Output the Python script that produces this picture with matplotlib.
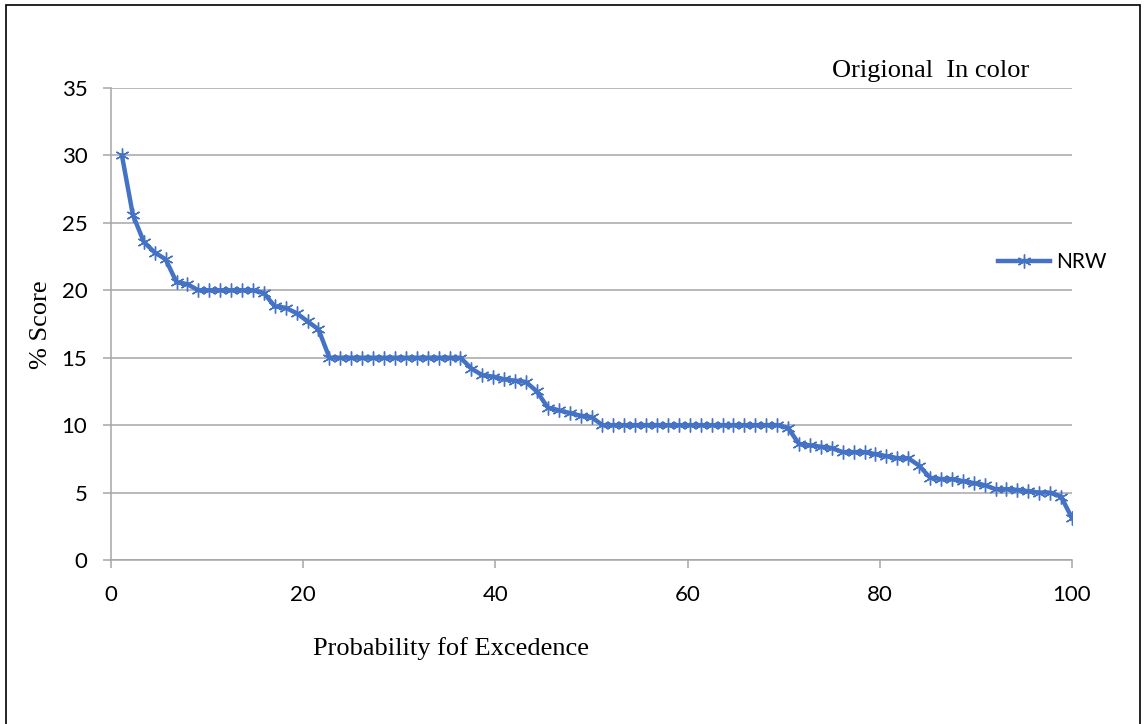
import matplotlib
matplotlib.use("Agg")
from matplotlib import pyplot as plt
from matplotlib.patches import Rectangle

# NRW scores sorted from highest to lowest
scores = [
    30.0, 25.6, 23.6, 22.8, 22.3, 20.6, 20.45,
    20.0, 20.0, 20.0, 20.0, 20.0, 20.0,
    19.8, 18.8, 18.7, 18.3, 17.7, 17.1,
    15.0, 15.0, 15.0, 15.0, 15.0, 15.0, 15.0, 15.0, 15.0, 15.0, 15.0, 15.0, 15.0,
    14.2, 13.7, 13.6, 13.4, 13.3, 13.2, 12.5, 11.3, 11.1, 10.9, 10.7, 10.6,
    10.0, 10.0, 10.0, 10.0, 10.0, 10.0, 10.0, 10.0, 10.0, 10.0, 10.0, 10.0,
    10.0, 10.0, 10.0, 10.0, 10.0,
    9.8, 8.6, 8.5, 8.4, 8.3, 8.0, 8.0, 8.0, 7.85, 7.7, 7.55, 7.55, 7.0,
    6.1, 6.0, 6.0, 5.85, 5.7, 5.55, 5.25, 5.25, 5.2, 5.1, 5.0, 5.0, 4.7, 3.1,
]
# probability of exceedance from rank
n = len(scores)
prob = [100.0 * (i + 1) / n for i in range(n)]

x_ticks = [0, 20, 40, 60, 80, 100]
y_ticks = [0, 5, 10, 15, 20, 25, 30, 35]

blue = "#4472C4"
grey = "#A6A6A6"
tick_font = "Lato"
serif_font = "Liberation Serif"

fig = plt.figure(figsize=(11.44, 7.24), dpi=100)
ax = fig.add_axes([111 / 1144, 1 - 560 / 724, (1072 - 111) / 1144, (560 - 88) / 724])

ax.plot(prob, scores, color=blue, linewidth=3.2, marker=(6, 2, 0),
        markersize=10, markeredgewidth=1.0, markeredgecolor=blue, label="NRW")

ax.set_xlim(0, 100)
ax.set_ylim(0, 35)
ax.set_xticks(x_ticks)
ax.set_yticks(y_ticks)
ax.grid(axis="y", color=grey, linewidth=1.1)
ax.set_axisbelow(True)

for side in ["top", "right"]:
    ax.spines[side].set_visible(False)
for side in ["left", "bottom"]:
    ax.spines[side].set_color(grey)
    ax.spines[side].set_linewidth(1.1)

ax.tick_params(axis="both", direction="out", length=6, width=1.1, color=grey,
               labelsize=16)
ax.tick_params(axis="x", pad=12)
ax.tick_params(axis="y", pad=11)
for lbl in ax.get_xticklabels() + ax.get_yticklabels():
    lbl.set_fontfamily(tick_font)

ax.set_xlabel("Probability fof Excedence", fontsize=19, family=serif_font)
ax.xaxis.set_label_coords((451 - 111) / (1072 - 111), -(637 - 560) / (560 - 88))
ax.set_ylabel("% Score", fontsize=19, family=serif_font)
ax.yaxis.set_label_coords(-(111 - 52) / (1072 - 111), (560 - 325) / (560 - 88))

fig.text(931 / 1144, 1 - 71 / 724, "Origional  In color", fontsize=19,
         family=serif_font, ha="center", va="center")

leg = ax.legend(loc="center left", bbox_to_anchor=(998 / 1144, 1 - 262 / 724),
                bbox_transform=fig.transFigure, frameon=False, borderpad=0,
                borderaxespad=0, handlelength=2.5, handletextpad=0.3,
                prop={"family": tick_font, "size": 15})

# border around the whole chart
fig.patches.append(Rectangle((6 / 1144, -0.02), (1140 - 6) / 1144, 1.02 - 5 / 724,
                             transform=fig.transFigure, fill=False,
                             edgecolor="black", linewidth=1.2))

fig.savefig("out.png", dpi=100)
